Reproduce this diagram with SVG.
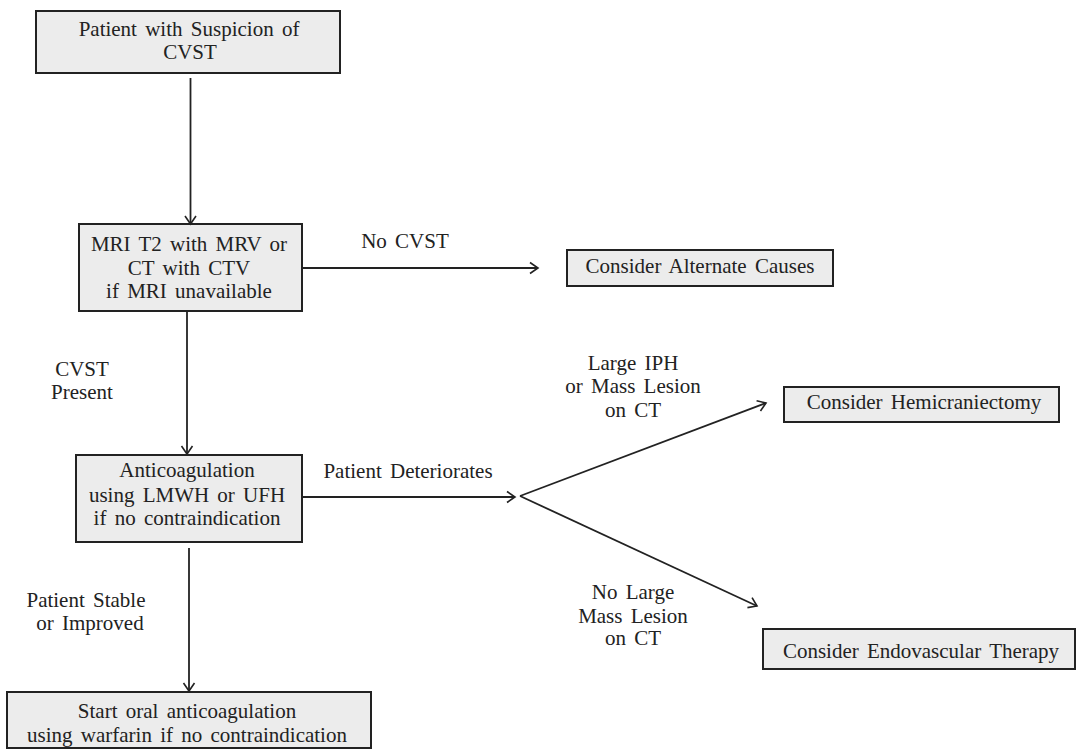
<svg xmlns="http://www.w3.org/2000/svg" width="1078" height="750" viewBox="0 0 1078 750">
<defs>
<marker id="arr" markerUnits="userSpaceOnUse" markerWidth="14" markerHeight="14" viewBox="-10 -7 12 14" refX="0" refY="0" orient="auto">
<path d="M-8,-5.5 L0,0 L-8,5.5" fill="none" stroke="#222" stroke-width="1.6"/>
</marker>
<style>
.box{fill:#ececec;stroke:#222;stroke-width:2}
.t{font-family:"Liberation Serif","Times New Roman",Times,"DejaVu Serif","Noto Serif",FreeSerif,serif;font-size:21px;fill:#222;text-anchor:middle;word-spacing:3px}
.c{stroke:#222;stroke-width:1.8;fill:none;marker-end:url(#arr)}
</style>
</defs>
<rect width="1078" height="750" fill="#fff"/>
<g id="n1"><rect class="box" x="36" y="11" width="304" height="62"/>
<text class="t" x="189" y="36">Patient with Suspicion of</text><text class="t" x="190" y="59">CVST</text></g>
<g id="n2"><rect class="box" x="79" y="224" width="223" height="87"/>
<text class="t" x="189" y="251">MRI T2 with MRV or</text><text class="t" x="189" y="275">CT with CTV</text><text class="t" x="189" y="298">if MRI unavailable</text></g>
<g id="n3"><rect class="box" x="567" y="250" width="266" height="36"/>
<text class="t" x="700" y="273">Consider Alternate Causes</text></g>
<g id="n4"><rect class="box" x="76" y="455" width="226" height="87"/>
<text class="t" x="187" y="477">Anticoagulation</text><text class="t" x="187" y="502">using LMWH or UFH</text><text class="t" x="187" y="525">if no contraindication</text></g>
<g id="n5"><rect class="box" x="784" y="387" width="275" height="35"/>
<text class="t" x="924" y="409">Consider Hemicraniectomy</text></g>
<g id="n6"><rect class="box" x="763" y="629" width="312" height="40"/>
<text class="t" x="921" y="658">Consider Endovascular Therapy</text></g>
<g id="n7"><rect class="box" x="7" y="692" width="364" height="56"/>
<text class="t" x="187" y="718">Start oral anticoagulation</text><text class="t" x="187" y="742">using warfarin if no contraindication</text></g>
<g id="connectors">
<line class="c" x1="190.5" y1="78" x2="190.5" y2="224"/>
<line class="c" x1="302" y1="268" x2="538" y2="268"/>
<line class="c" x1="187" y1="311" x2="187" y2="454"/>
<line class="c" x1="302" y1="497" x2="515" y2="497"/>
<line class="c" x1="520" y1="496" x2="766" y2="403"/>
<line class="c" x1="520" y1="496" x2="757" y2="606"/>
<line class="c" x1="189" y1="548" x2="189" y2="691"/>
</g>
<g id="labels">
<text class="t" x="405" y="248">No CVST</text>
<text class="t" x="82" y="376">CVST</text><text class="t" x="82" y="399">Present</text>
<text class="t" x="408" y="478">Patient Deteriorates</text>
<text class="t" x="86" y="607">Patient Stable</text><text class="t" x="90" y="630">or Improved</text>
<text class="t" x="633" y="370">Large IPH</text><text class="t" x="633" y="393">or Mass Lesion</text><text class="t" x="633" y="417">on CT</text>
<text class="t" x="633" y="599">No Large</text><text class="t" x="633" y="623">Mass Lesion</text><text class="t" x="633" y="645">on CT</text>
</g>
</svg>
